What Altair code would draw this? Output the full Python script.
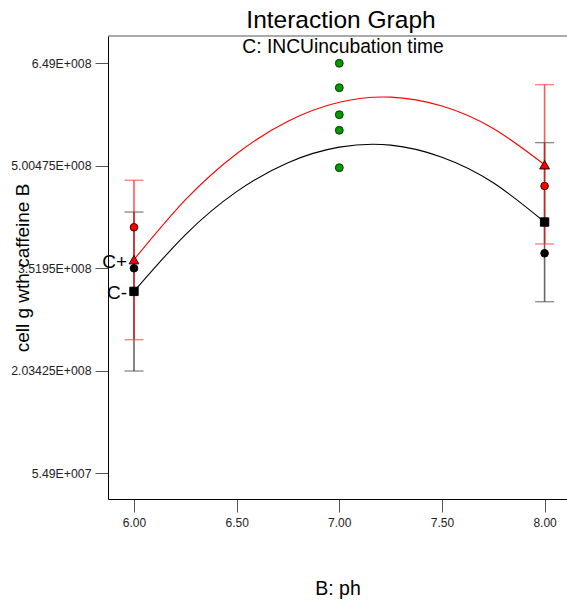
import altair as alt
import pandas as pd

# ---- data -------------------------------------------------------------
# Factor B (pH) levels where the factorial points sit, and the centre point
PH_LEVELS = [6.0, 8.0]
PH_CENTER = 7.0

# Predicted means at the factorial pH levels for each level of factor C
PRED_C_PLUS = [364.5e6, 502.0e6]
PRED_C_MINUS = [318.5e6, 419.0e6]

# LSD bar ends around each predicted mean
BAR_LOW_C_PLUS = [248.5e6, 387.2e6]
BAR_HIGH_C_PLUS = [479.5e6, 618.0e6]
BAR_LOW_C_MINUS = [203.1e6, 303.5e6]
BAR_HIGH_C_MINUS = [433.5e6, 534.0e6]

# Observed design points
OBS_C_PLUS = [411.4e6, 471.2e6]
OBS_C_MINUS = [352.0e6, 373.7e6]
OBS_CENTER = [649.0e6, 613.6e6, 574.5e6, 551.9e6, 497.7e6]

# Fitted response curves across the pH range
CURVE_PH = [6.0, 6.25, 6.5, 6.75, 7.0, 7.25, 7.5, 7.75, 8.0]
CURVE_C_PLUS = [364.5e6, 451.0e6, 518.0e6, 565.0e6, 592.5e6, 600.0e6, 587.0e6, 554.5e6, 502.0e6]
CURVE_C_MINUS = [318.5e6, 400.5e6, 463.0e6, 505.0e6, 527.5e6, 530.5e6, 513.0e6, 476.0e6, 419.0e6]

# Axis ticks and their printed labels
X_TICKS = [6.0, 6.5, 7.0, 7.5, 8.0]
Y_TICKS = [54.9e6, 203.425e6, 351.95e6, 500.475e6, 649.0e6]
Y_TICK_LABELS = ["5.49E+007", "2.03425E+008", "3.5195E+008", "5.00475E+008", "6.49E+008"]

TITLE = "Interaction Graph"
SUBTITLE = "C: INCUincubation time"
X_TITLE = "B: ph"
Y_TITLE = "cell g wth caffeine B"

# ---- layout -----------------------------------------------------------
W, H = 459, 463
FONT = "Liberation Sans"
X_DOMAIN = [5.8734, 8.1092]
Y_DOMAIN = [17.66e6, 688.56e6]

label_expr = " : ".join(
    f"abs(datum.value - {v}) < 1 ? '{t}'" for v, t in zip(Y_TICKS, Y_TICK_LABELS)
) + " : ''"

x_axis = alt.Axis(
    values=X_TICKS, format=".2f", grid=False,
    tickSize=13, tickColor="#555", domainColor="black",
    labelFont=FONT, labelFontSize=12, labelColor="#222", labelPadding=5,
    title=X_TITLE, titleFont=FONT, titleFontSize=19.5, titleFontWeight="normal",
    titleColor="black", titleBaseline="alphabetic", titleY=95.7,
)
y_axis = alt.Axis(
    values=Y_TICKS, labelExpr=label_expr, grid=False,
    tickSize=13, tickColor="#555", domainColor="black",
    labelFont=FONT, labelFontSize=12.3, labelColor="#222", labelPadding=4,
    title=Y_TITLE, titleFont=FONT, titleFontSize=19, titleFontWeight="normal",
    titleColor="black", titleBaseline="alphabetic", titleX=-80, titleY=H / 2,
)


def xenc(field="ph"):
    return alt.X(f"{field}:Q", scale=alt.Scale(domain=X_DOMAIN, nice=False, zero=False), axis=x_axis)


def yenc(field="cells"):
    return alt.Y(f"{field}:Q", scale=alt.Scale(domain=Y_DOMAIN, nice=False, zero=False), axis=y_axis)


curve_plus = pd.DataFrame({"ph": CURVE_PH, "cells": CURVE_C_PLUS})
curve_minus = pd.DataFrame({"ph": CURVE_PH, "cells": CURVE_C_MINUS})
bars_plus = pd.DataFrame({"ph": PH_LEVELS, "low": BAR_LOW_C_PLUS, "high": BAR_HIGH_C_PLUS})
bars_minus = pd.DataFrame({"ph": PH_LEVELS, "low": BAR_LOW_C_MINUS, "high": BAR_HIGH_C_MINUS})
pred_plus = pd.DataFrame({"ph": PH_LEVELS, "cells": PRED_C_PLUS})
pred_minus = pd.DataFrame({"ph": PH_LEVELS, "cells": PRED_C_MINUS})
obs_plus = pd.DataFrame({"ph": PH_LEVELS, "cells": OBS_C_PLUS})
obs_minus = pd.DataFrame({"ph": PH_LEVELS, "cells": OBS_C_MINUS})
obs_center = pd.DataFrame({"ph": [PH_CENTER] * len(OBS_CENTER), "cells": OBS_CENTER})
level_labels = pd.DataFrame({
    "ph": [PH_LEVELS[0], PH_LEVELS[0]],
    "cells": [PRED_C_PLUS[0], PRED_C_MINUS[0]],
    "label": ["C+", "C-"],
})

# top frame line
frame_top = alt.Chart(pd.DataFrame({"k": [0]})).mark_rule(color="#555", strokeWidth=1).encode(
    x=alt.value(0), x2=alt.value(W), y=alt.value(0)
)

# LSD bars: gray for C-, translucent red for C+
bar_minus_v = alt.Chart(bars_minus).mark_rule(color="#666", strokeWidth=1.6).encode(
    x=xenc(), y=yenc("low"), y2="high:Q")
bar_minus_lo = alt.Chart(bars_minus).mark_tick(orient="horizontal", size=19, thickness=1.3, color="#555").encode(
    x=xenc(), y=yenc("low"))
bar_minus_hi = alt.Chart(bars_minus).mark_tick(orient="horizontal", size=19, thickness=1.3, color="#555").encode(
    x=xenc(), y=yenc("high"))
bar_plus_v = alt.Chart(bars_plus).mark_rule(color="#ff0000", strokeWidth=1.6, opacity=0.65).encode(
    x=xenc(), y=yenc("low"), y2="high:Q")
bar_plus_lo = alt.Chart(bars_plus).mark_tick(orient="horizontal", size=19, thickness=1.3, color="#ff4040").encode(
    x=xenc(), y=yenc("low"))
bar_plus_hi = alt.Chart(bars_plus).mark_tick(orient="horizontal", size=19, thickness=1.3, color="#ff4040").encode(
    x=xenc(), y=yenc("high"))

line_minus = alt.Chart(curve_minus).mark_line(color="black", strokeWidth=1.1, interpolate="natural").encode(
    x=xenc(), y=yenc())
line_plus = alt.Chart(curve_plus).mark_line(color="#ff0000", strokeWidth=1.1, interpolate="natural").encode(
    x=xenc(), y=yenc())

pts_center = alt.Chart(obs_center).mark_point(
    shape="circle", filled=True, fill="#009900", stroke="#0a3a0a", strokeWidth=1, size=62, opacity=1
).encode(x=xenc(), y=yenc())
pts_plus = alt.Chart(obs_plus).mark_point(
    shape="circle", filled=True, fill="#ff0000", stroke="#400000", strokeWidth=1, size=58, opacity=1
).encode(x=xenc(), y=yenc())
pts_minus = alt.Chart(obs_minus).mark_point(
    shape="circle", filled=True, fill="black", stroke="black", strokeWidth=1, size=58, opacity=1
).encode(x=xenc(), y=yenc())

mk_plus = alt.Chart(pred_plus).mark_point(
    shape="triangle-up", filled=True, fill="#ff0000", stroke="#300000", strokeWidth=1, size=95, opacity=1
).encode(x=xenc(), y=yenc())
mk_minus = alt.Chart(pred_minus).mark_point(
    shape="square", filled=True, fill="black", stroke="black", strokeWidth=1, size=70, opacity=1
).encode(x=xenc(), y=yenc())

lvl_text = alt.Chart(level_labels).mark_text(
    align="right", baseline="middle", dx=-7, dy=2, font=FONT, fontSize=19, color="black"
).encode(x=xenc(), y=yenc(), text="label:N")

title_text = alt.Chart(pd.DataFrame({"t": [TITLE]})).mark_text(
    align="center", baseline="alphabetic", font=FONT, fontSize=24.5, color="black"
).encode(x=alt.value(233), y=alt.value(-8), text="t:N")
subtitle_text = alt.Chart(pd.DataFrame({"t": [SUBTITLE]})).mark_text(
    align="center", baseline="alphabetic", font=FONT, fontSize=19.3, color="black"
).encode(x=alt.value(235), y=alt.value(16.7), text="t:N")

chart = alt.layer(
    frame_top,
    line_minus, line_plus,
    bar_minus_v, bar_minus_lo, bar_minus_hi,
    bar_plus_v, bar_plus_lo, bar_plus_hi,
    pts_center, pts_minus, pts_plus,
    mk_minus, mk_plus,
    lvl_text, title_text, subtitle_text,
).properties(
    width=W, height=H,
    autosize=alt.AutoSizeParams(type="none"),
    padding={"left": 108, "top": 36, "right": 0, "bottom": 102},
    background="white",
).configure_view(stroke=None)

chart.save("out.html", embed_options={"renderer": "svg", "actions": False})
